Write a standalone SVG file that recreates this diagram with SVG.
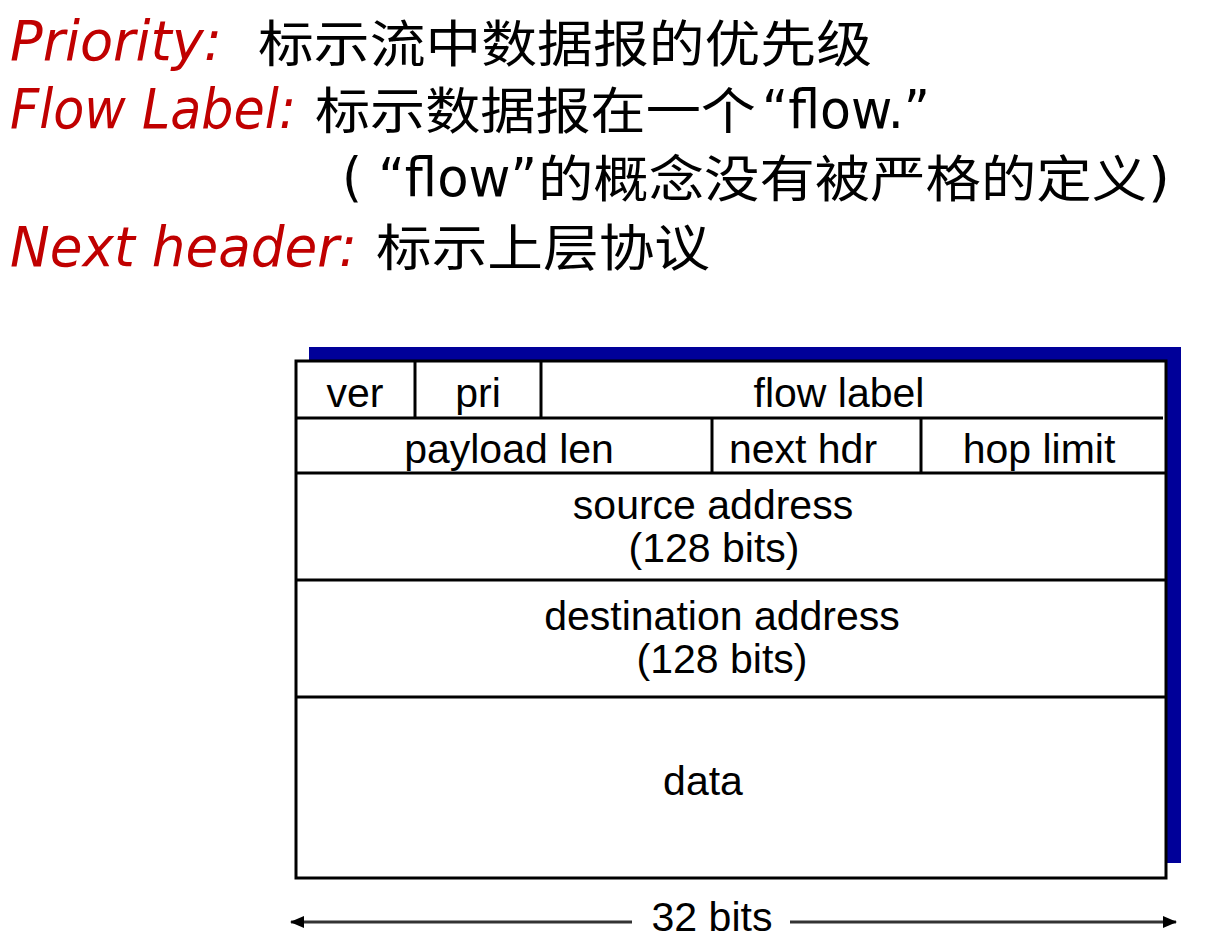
<svg xmlns="http://www.w3.org/2000/svg" width="1228" height="940" viewBox="0 0 1228 940">
<style>
.red{fill:#C00000;font-family:"DejaVu Sans","Liberation Sans",sans-serif;font-style:italic;font-size:56px}
.cjk{fill:#000;font-family:"Noto Sans CJK SC","Noto Sans CJK TC",sans-serif;font-size:50px}
.lat{fill:#000;font-family:"DejaVu Sans","Liberation Sans",sans-serif;font-size:54px}
.lbl{fill:#000;font-family:"Liberation Sans",Arial,sans-serif;font-size:41px;text-anchor:middle}
.ln{stroke:#000;stroke-width:3;fill:none}
</style>
<defs>
<marker id="ah" markerWidth="14" markerHeight="12" refX="13" refY="6" orient="auto-start-reverse" markerUnits="userSpaceOnUse">
<path d="M0,0 L14,6 L0,12 Z" fill="#000"/>
</marker>
</defs>
<g id="notes">
<text class="red" x="10" y="60" textLength="212" lengthAdjust="spacingAndGlyphs">Priority:</text>
<text class="cjk" x="258" y="62" textLength="614" lengthAdjust="spacingAndGlyphs">标示流中数据报的优先级</text>
<text class="red" x="10" y="128" textLength="286" lengthAdjust="spacingAndGlyphs">Flow Label:</text>
<text class="cjk" x="315" y="129" textLength="441" lengthAdjust="spacingAndGlyphs">标示数据报在一个</text>
<text class="lat" x="762" y="128" textLength="168" lengthAdjust="spacingAndGlyphs">“flow.”</text>
<text class="lat" x="342" y="196" textLength="195" lengthAdjust="spacingAndGlyphs">( “flow”</text>
<text class="cjk" x="538" y="197" textLength="609" lengthAdjust="spacingAndGlyphs">的概念没有被严格的定义</text>
<text class="lat" x="1148" y="196" textLength="22" lengthAdjust="spacingAndGlyphs">)</text>
<text class="red" x="10" y="266" textLength="347" lengthAdjust="spacingAndGlyphs">Next header:</text>
<text class="cjk" x="376" y="266" textLength="334" lengthAdjust="spacingAndGlyphs">标示上层协议</text>
</g>
<g id="header">
<rect id="shadow" x="309" y="347" width="872" height="516" fill="#000099"/>
<rect id="frame" x="296" y="361" width="870" height="517" fill="#fff" stroke="#000" stroke-width="3"/>
<g id="row1">
<line class="ln" x1="296" y1="418" x2="1163" y2="418"/>
<line class="ln" x1="415" y1="361" x2="415" y2="418"/>
<line class="ln" x1="541" y1="361" x2="541" y2="418"/>
<text class="lbl" x="355" y="407">ver</text>
<text class="lbl" x="478" y="407">pri</text>
<text class="lbl" x="839" y="407">flow label</text>
</g>
<g id="row2">
<line class="ln" x1="296" y1="473" x2="1166" y2="473"/>
<line class="ln" x1="712" y1="418" x2="712" y2="473"/>
<line class="ln" x1="921" y1="418" x2="921" y2="473"/>
<text class="lbl" x="509" y="463">payload len</text>
<text class="lbl" x="803" y="463">next hdr</text>
<text class="lbl" x="1039" y="463">hop limit</text>
</g>
<g id="src">
<line class="ln" x1="296" y1="580" x2="1166" y2="580"/>
<text class="lbl" x="713" y="519">source address</text>
<text class="lbl" x="714" y="562">(128 bits)</text>
</g>
<g id="dst">
<line class="ln" x1="296" y1="697" x2="1166" y2="697"/>
<text class="lbl" x="722" y="630">destination address</text>
<text class="lbl" x="722" y="673">(128 bits)</text>
</g>
<g id="data">
<text class="lbl" x="703" y="795">data</text>
</g>
</g>
<g id="connectors">
<line x1="632" y1="922" x2="291" y2="922" stroke="#333" stroke-width="3" marker-end="url(#ah)"/>
<line x1="790" y1="922" x2="1176" y2="922" stroke="#333" stroke-width="3" marker-end="url(#ah)"/>
</g>
<text class="lbl" x="712" y="931" font-size="42" textLength="121" lengthAdjust="spacingAndGlyphs">32 bits</text>
</svg>
